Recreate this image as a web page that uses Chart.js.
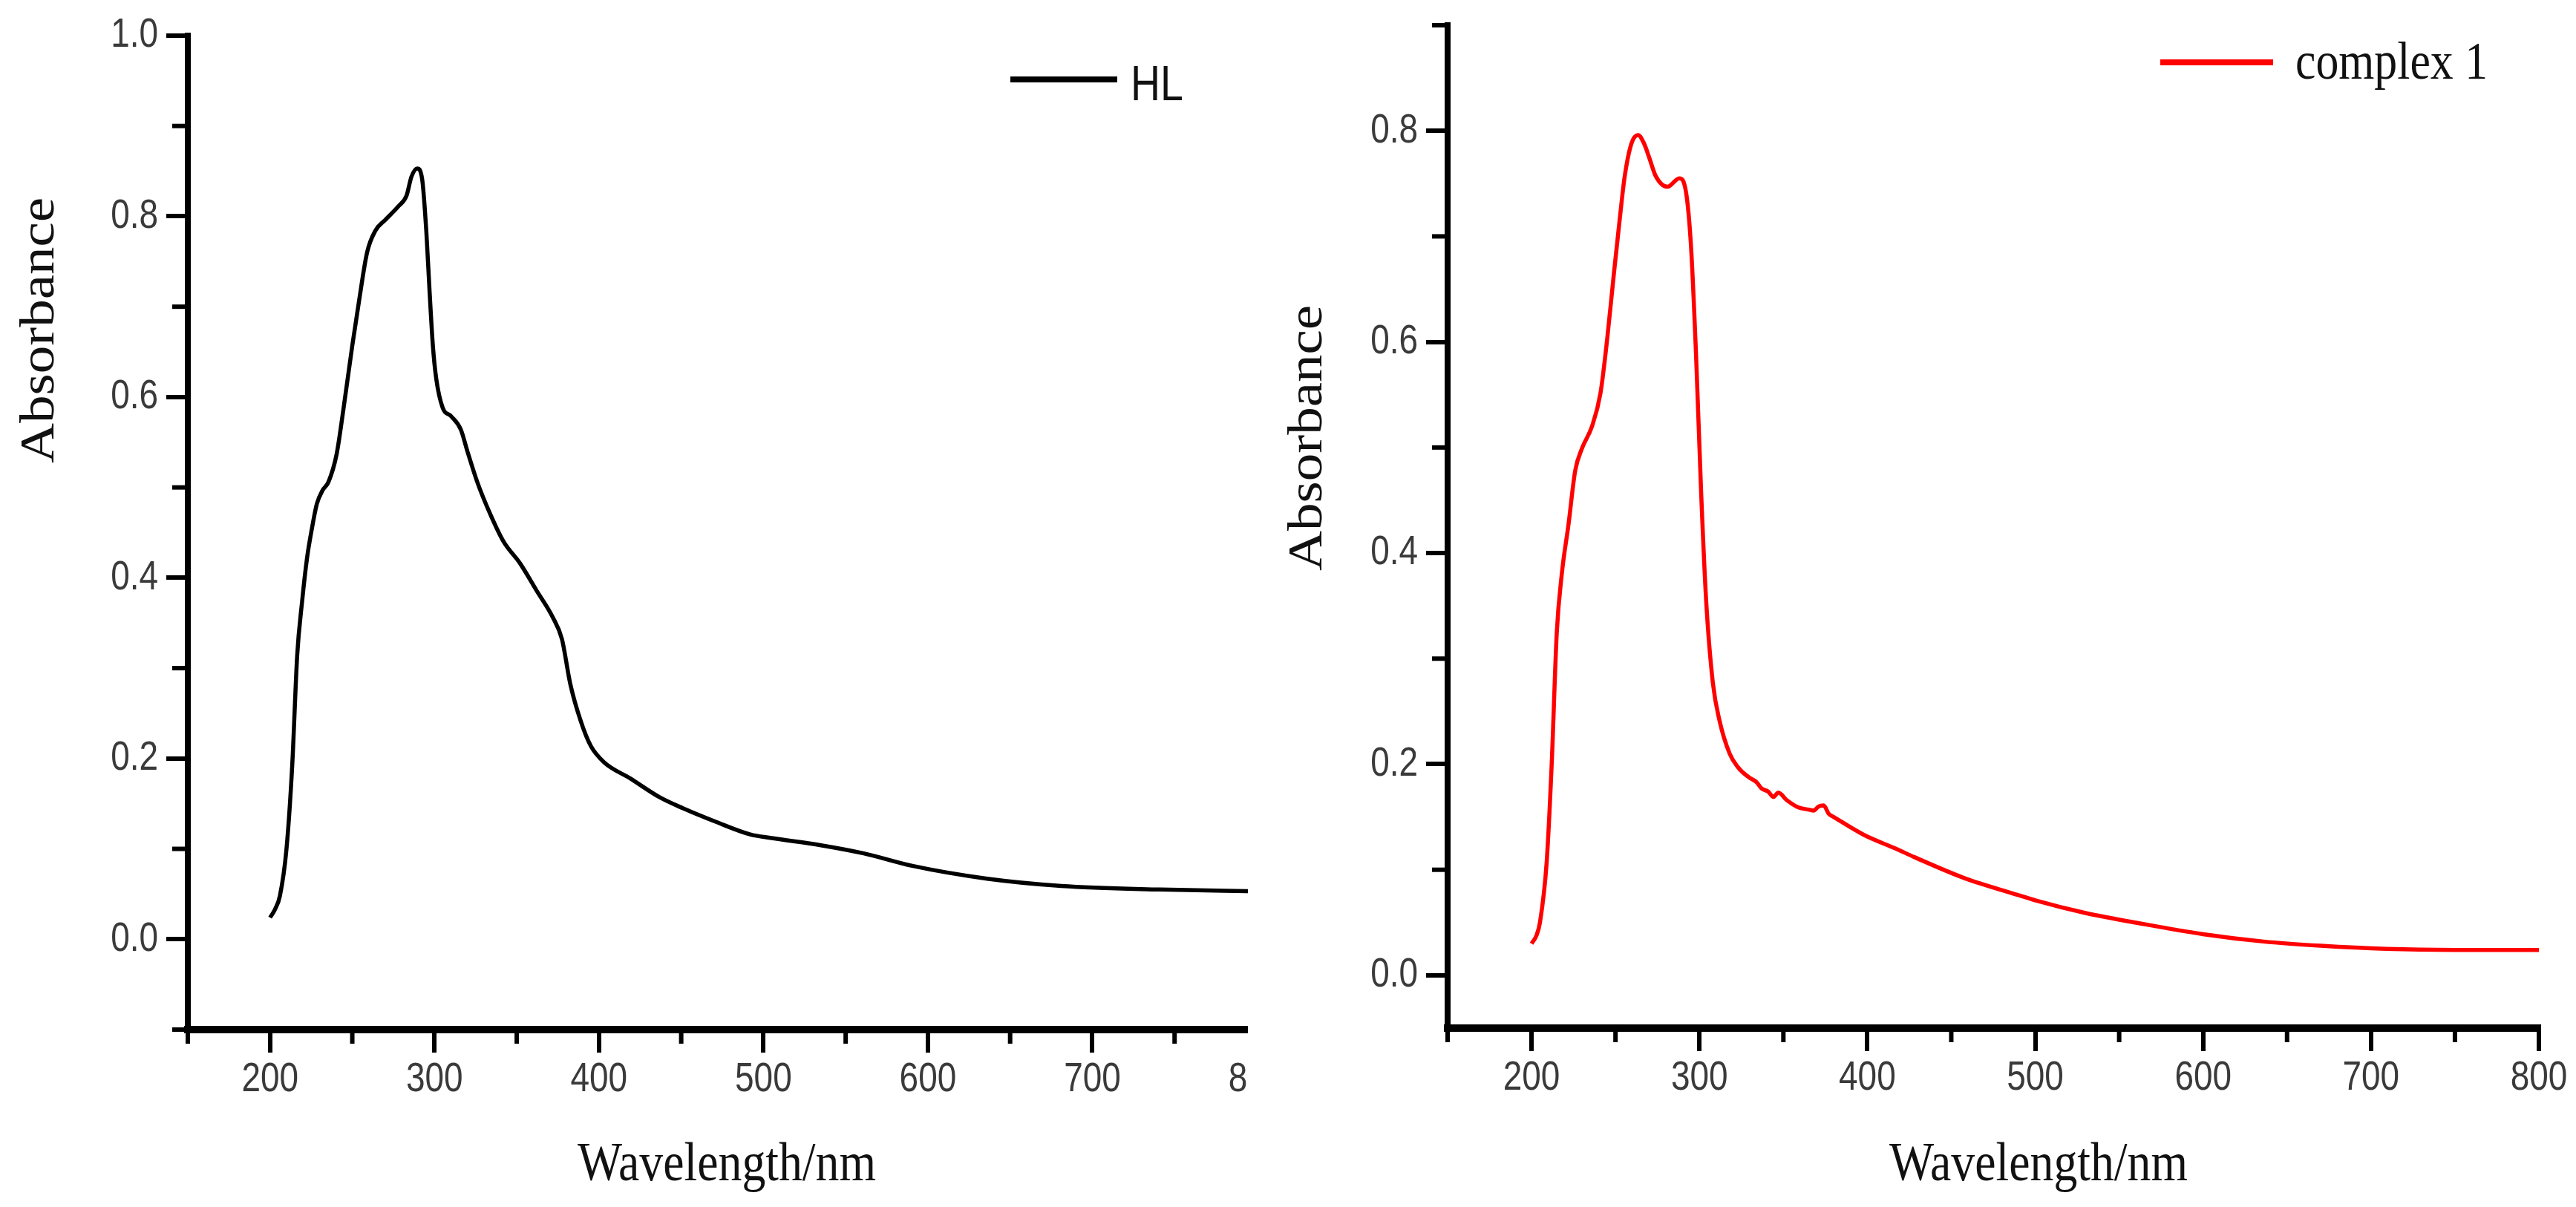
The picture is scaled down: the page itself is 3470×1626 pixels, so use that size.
<!DOCTYPE html>
<html>
<head>
<meta charset="utf-8">
<title>UV-Vis spectra: HL and complex 1</title>
<script src="https://cdn.jsdelivr.net/npm/chart.js@4.4.1/dist/chart.umd.min.js"></script>
<style>
  html, body { margin: 0; padding: 0; background: #fff; }
  body { width: 3470px; height: 1626px; position: relative; overflow: hidden; }
  /* the left panel is cut off just past 795 nm, like the source figure */
  #leftWrap { position: absolute; left: 0; top: 0; width: 1681px; height: 1626px; overflow: hidden; }
  #rightWrap { position: absolute; left: 1700px; top: 0; width: 1770px; height: 1626px; }
</style>
</head>
<body>
<div id="leftWrap"><canvas id="hlChart" width="1760" height="1626"></canvas></div>
<div id="rightWrap"><canvas id="complexChart" width="1770" height="1626"></canvas></div>
<script>
// ---- Data ----
// HL (ligand) spectrum
const hlWavelength = [200, 203, 206, 210, 213.5, 216.5, 219.5, 222.5, 225.5, 228.5, 232, 235.5, 240.5, 244.5,
  250, 254, 259, 264, 270, 278, 283, 286, 289.5, 292.5, 295, 297, 299, 301, 305, 310, 316, 320, 326, 334,
  342, 352, 362, 372, 377.5, 382.5, 389, 395, 403, 419, 437, 451, 471, 492, 505, 535, 561, 591, 636, 681, 741, 800];
const hlAbsorbance = [0.024, 0.033, 0.048, 0.100, 0.193, 0.314, 0.374, 0.422, 0.455, 0.482, 0.497, 0.506, 0.537, 0.585,
  0.657, 0.705, 0.760, 0.784, 0.796, 0.811, 0.823, 0.844, 0.853, 0.841, 0.784, 0.717, 0.657, 0.621, 0.588, 0.579, 0.564, 0.540, 0.506, 0.470,
  0.440, 0.416, 0.386, 0.356, 0.332, 0.283, 0.241, 0.214, 0.196, 0.178, 0.157, 0.145, 0.130, 0.116, 0.112, 0.104, 0.095, 0.081, 0.067, 0.059, 0.055, 0.053];

// complex 1 spectrum
const cxWavelength = [200, 203, 205, 209, 212, 215, 218, 222, 226, 230, 236, 241, 245, 249, 252.5, 255.5, 259.5, 263.5,
  267, 270, 274, 281, 288, 292, 295, 298, 301, 304, 308, 312, 318, 323, 326, 330, 334, 337, 341, 344, 347, 352,
  359, 365, 368, 371, 374, 377, 380, 398, 417, 428, 458, 490, 500, 530, 563, 600, 636, 670, 709, 750, 800];
const cxAbsorbance = [0.030, 0.038, 0.050, 0.107, 0.200, 0.324, 0.380, 0.427, 0.478, 0.499, 0.520, 0.551, 0.602, 0.664, 0.716, 0.757, 0.788, 0.796,
  0.788, 0.775, 0.757, 0.747, 0.755, 0.742, 0.690, 0.587, 0.458, 0.355, 0.277, 0.241, 0.210, 0.197, 0.192, 0.187, 0.183, 0.177, 0.174, 0.169, 0.173, 0.166,
  0.159, 0.157, 0.156, 0.160, 0.161, 0.153, 0.150, 0.133, 0.120, 0.112, 0.092, 0.076, 0.071, 0.059, 0.049, 0.039, 0.032, 0.028, 0.025, 0.024, 0.024];

// Axis ticks
const xMajorTicks = [200, 300, 400, 500, 600, 700, 800];
const xMinorTicks = [150, 250, 350, 450, 550, 650, 750];
const hlYMajorTicks = [0.0, 0.2, 0.4, 0.6, 0.8, 1.0];
const hlYMinorTicks = [-0.1, 0.1, 0.3, 0.5, 0.7, 0.9];
const cxYMajorTicks = [0.0, 0.2, 0.4, 0.6, 0.8];
const cxYMinorTicks = [0.1, 0.3, 0.5, 0.7, 0.9];

const serif = '"Liberation Serif", "Times New Roman", serif';
const sans = '"Liberation Sans", Arial, sans-serif';

function toPoints(xs, ys){
  return xs.map((x, i) => ({ x: x, y: ys[i] }));
}

// draw text squeezed horizontally (the source figure was exported condensed)
function squeezedText(ctx, text, x, y, squeeze){
  ctx.save();
  ctx.translate(x, y);
  ctx.scale(squeeze, 1);
  ctx.fillText(text, 0, 0);
  ctx.restore();
}

// Minor ticks, tick labels, axis titles and the legend, drawn after the chart
const spectrumDecor = {
  id: 'spectrumDecor',
  afterDraw(chart, args, opts){
    const ctx = chart.ctx;
    const xs = chart.scales.x, ys = chart.scales.y;
    ctx.save();
    ctx.strokeStyle = '#000';
    ctx.lineWidth = 6;
    ctx.lineCap = 'butt';
    opts.xMinor.forEach(v => {
      const px = xs.getPixelForValue(v);
      ctx.beginPath(); ctx.moveTo(px, xs.top); ctx.lineTo(px, xs.top + 19); ctx.stroke();
    });
    opts.yMinor.forEach(v => {
      const py = ys.getPixelForValue(v);
      ctx.beginPath(); ctx.moveTo(ys.right, py); ctx.lineTo(ys.right - 21, py); ctx.stroke();
    });

    // tick labels from the scales' own ticks
    ctx.fillStyle = '#3a3a3a';
    ctx.font = '56px ' + sans;
    ctx.textAlign = 'center';
    ctx.textBaseline = 'top';
    xs.ticks.forEach(t => {
      squeezedText(ctx, String(t.value), xs.getPixelForValue(t.value), xs.top + 40, 0.82);
    });
    ctx.textAlign = 'right';
    ctx.textBaseline = 'middle';
    ys.ticks.forEach(t => {
      squeezedText(ctx, t.value.toFixed(1), ys.right - 40, ys.getPixelForValue(t.value), 0.82);
    });

    // axis titles
    ctx.fillStyle = '#111';
    ctx.font = '75px ' + serif;
    ctx.textAlign = 'center';
    ctx.textBaseline = 'middle';
    ctx.save();
    ctx.translate(opts.yTitle[0], opts.yTitle[1]);
    ctx.scale(0.86, 1);
    ctx.rotate(-Math.PI / 2);
    ctx.fillText('Absorbance', 0, 0);
    ctx.restore();

    ctx.textBaseline = 'alphabetic';
    squeezedText(ctx, 'Wavelength/nm', opts.xTitle[0], opts.xTitle[1], 0.85);

    // legend
    const ds = chart.data.datasets[0];
    const lg = opts.legend;
    ctx.strokeStyle = ds.borderColor;
    ctx.lineWidth = 8;
    ctx.beginPath(); ctx.moveTo(lg.x1, lg.y); ctx.lineTo(lg.x2, lg.y); ctx.stroke();
    ctx.fillStyle = '#111';
    ctx.font = lg.font;
    ctx.textAlign = 'left';
    squeezedText(ctx, ds.label, lg.tx, lg.ty, lg.squeeze);
    ctx.restore();
  }
};

function makeScales(yMin, yMax, yTicks, yWidth, xHeight){
  return {
    x: {
      type: 'linear', min: 150, max: 800,
      afterBuildTicks: axis => { axis.ticks = xMajorTicks.map(v => ({ value: v })); },
      afterFit: axis => { axis.height = xHeight; },
      border: { display: true, color: '#000', width: 10 },
      grid: { display: true, drawOnChartArea: false, drawTicks: true, tickLength: 31, tickWidth: 6, lineWidth: 6, color: '#000', tickColor: '#000' },
      ticks: { display: false, autoSkip: false, maxRotation: 0 }
    },
    y: {
      type: 'linear', min: yMin, max: yMax,
      afterBuildTicks: axis => { axis.ticks = yTicks.map(v => ({ value: v })); },
      afterFit: axis => { axis.width = yWidth; },
      border: { display: true, color: '#000', width: 8 },
      grid: { display: true, drawOnChartArea: false, drawTicks: true, tickLength: 29, tickWidth: 6, lineWidth: 6, color: '#000', tickColor: '#000' },
      ticks: { display: false, autoSkip: false }
    }
  };
}

// HL chart
new Chart(document.getElementById('hlChart'), {
  type: 'line',
  data: {
    datasets: [{
      label: 'HL',
      data: toPoints(hlWavelength, hlAbsorbance),
      borderColor: '#000',
      borderWidth: 5.5,
      pointRadius: 0,
      cubicInterpolationMode: 'monotone',
      fill: false
    }]
  },
  options: {
    responsive: false,
    maintainAspectRatio: false,
    devicePixelRatio: 1,
    animation: false,
    layout: { padding: { left: 0, top: 48, right: 67, bottom: 0 } },
    scales: makeScales(-0.1, 1.0, hlYMajorTicks, 253, 1626 - 1387),
    plugins: {
      legend: { display: false },
      tooltip: { enabled: false },
      spectrumDecor: {
        xMinor: xMinorTicks, yMinor: hlYMinorTicks,
        yTitle: [55, 445], xTitle: [979, 1590],
        legend: { x1: 1361, x2: 1505, y: 107, tx: 1523, ty: 135, font: '66px ' + sans, squeeze: 0.84 }
      }
    }
  },
  plugins: [spectrumDecor]
});

// complex 1 chart
new Chart(document.getElementById('complexChart'), {
  type: 'line',
  data: {
    datasets: [{
      label: 'complex 1',
      data: toPoints(cxWavelength, cxAbsorbance),
      borderColor: '#ff0000',
      borderWidth: 5.5,
      pointRadius: 0,
      cubicInterpolationMode: 'monotone',
      fill: false
    }]
  },
  options: {
    responsive: false,
    maintainAspectRatio: false,
    devicePixelRatio: 1,
    animation: false,
    layout: { padding: { left: 0, top: 34, right: 50, bottom: 0 } },
    scales: makeScales(-0.05, 0.9, cxYMajorTicks, 250, 1626 - 1385),
    plugins: {
      legend: { display: false },
      tooltip: { enabled: false },
      spectrumDecor: {
        xMinor: xMinorTicks, yMinor: cxYMinorTicks,
        yTitle: [63, 590], xTitle: [1046, 1590],
        legend: { x1: 1210, x2: 1362, y: 84, tx: 1392, ty: 106, font: '71px ' + serif, squeeze: 0.87 }
      }
    }
  },
  plugins: [spectrumDecor]
});
</script>
</body>
</html>
